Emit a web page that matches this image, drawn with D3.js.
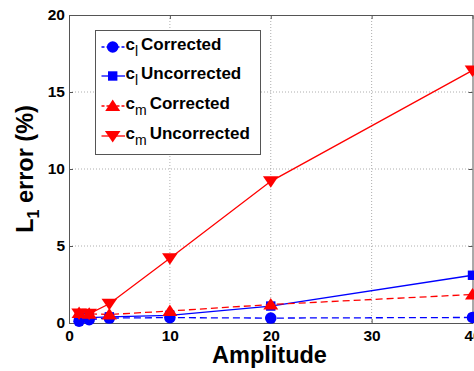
<!DOCTYPE html>
<html><head><meta charset="utf-8">
<script src="https://cdn.jsdelivr.net/npm/d3@7/dist/d3.min.js"></script>
<style>body{margin:0;background:#fff;}svg{display:block;}</style>
</head><body><svg id="c" width="474" height="371"></svg>
<script>
const amplitudes = [1, 2, 4, 10, 20, 40];
const clCorrected = [0.12, 0.22, 0.32, 0.35, 0.32, 0.36];
const clUncorrected = [0.3, 0.35, 0.4, 0.5, 1.1, 3.1];
const cmCorrected = [0.65, 0.6, 0.55, 0.78, 1.2, 1.85];
const cmUncorrected = [0.62, 0.6, 1.25, 4.2, 9.2, 16.4];
const xTicks = [0, 10, 20, 30, 40];
const yTicks = [0, 5, 10, 15, 20];
const seriesNames = ["Corrected", "Uncorrected", "Corrected", "Uncorrected"];
const seriesSub = ["l", "l", "m", "m"];

const series = [
  {vals: clCorrected, color: "#0000ff", dash: "7,4", marker: "circle"},
  {vals: clUncorrected, color: "#0000ff", dash: null, marker: "square"},
  {vals: cmCorrected, color: "#ff0000", dash: "7,4", marker: "up"},
  {vals: cmUncorrected, color: "#ff0000", dash: null, marker: "down"}
];

const svg = d3.select("#c");
const L = 69, R = 472.5, T = 15, B = 323;
const x = d3.scaleLinear().domain([0, 40]).range([L, R]);
const y = d3.scaleLinear().domain([0, 20]).range([B, T]);

// grid
const g = svg.append("g");
g.selectAll(".gx").data(xTicks.slice(1, -1)).enter().append("line")
  .attr("x1", d => x(d)).attr("x2", d => x(d)).attr("y1", T).attr("y2", B)
  .attr("stroke", "#999").attr("stroke-width", 0.8).attr("stroke-dasharray", "1,2");
g.selectAll(".gy").data(yTicks.slice(1, -1)).enter().append("line")
  .attr("y1", d => y(d)).attr("y2", d => y(d)).attr("x1", L).attr("x2", R)
  .attr("stroke", "#999").attr("stroke-width", 0.8).attr("stroke-dasharray", "1,2");

// axes
const font = "Arial, 'Liberation Sans', sans-serif";
const xa = svg.append("g").attr("transform", `translate(0,${B})`)
  .call(d3.axisBottom(x).tickValues(xTicks).tickSizeInner(-4).tickSizeOuter(0));
const ya = svg.append("g").attr("transform", `translate(${L},0)`)
  .call(d3.axisLeft(y).tickValues(yTicks).tickSizeInner(-4).tickSizeOuter(0).tickPadding(4));
svg.append("g").attr("transform", `translate(0,${T})`)
  .call(d3.axisTop(x).tickValues(xTicks).tickSizeInner(-4).tickSizeOuter(0).tickFormat(""));
svg.append("g").attr("transform", `translate(${R},0)`)
  .call(d3.axisRight(y).tickValues(yTicks).tickSizeInner(-4).tickSizeOuter(0).tickFormat(""));
svg.selectAll(".domain, .tick line").attr("stroke", "#555");
[xa, ya].forEach(a => a.selectAll("text").attr("font-family", font).attr("font-weight", "bold")
  .attr("font-size", 15.5).attr("fill", "#000"));
xa.selectAll("text").attr("y", 17.7).attr("dy", 0);

// lines + markers
const line = d3.line().x((d, i) => x(amplitudes[i])).y(d => y(d));
function drawMarker(sel, type, color, cx, cy) {
  if (type === "circle") sel.append("circle").attr("cx", cx).attr("cy", cy).attr("r", 5.8).attr("fill", color);
  else if (type === "square") sel.append("rect").attr("x", cx - 4.7).attr("y", cy - 4.7).attr("width", 9.4).attr("height", 9.4).attr("fill", color);
  else if (type === "up") sel.append("path").attr("d", `M${cx},${cy - 6.5}L${cx + 7.5},${cy + 5}L${cx - 7.5},${cy + 5}Z`).attr("fill", color);
  else sel.append("path").attr("d", `M${cx},${cy + 6.5}L${cx + 7.8},${cy - 5}L${cx - 7.8},${cy - 5}Z`).attr("fill", color);
}
series.forEach(s => {
  svg.append("path").datum(s.vals).attr("d", line).attr("fill", "none")
    .attr("stroke", s.color).attr("stroke-width", 1.3).attr("stroke-dasharray", s.dash);
});
series.forEach(s => {
  const mg = svg.append("g");
  s.vals.forEach((v, i) => drawMarker(mg, s.marker, s.color, x(amplitudes[i]), y(v)));
});

// legend
const lg = svg.append("g");
lg.append("rect").attr("x", 95.5).attr("y", 30.5).attr("width", 165).attr("height", 124)
  .attr("fill", "#fff").attr("stroke", "#555").attr("stroke-width", 1);
const rowY = [47, 76, 106, 136];
series.forEach((s, i) => {
  const cy = rowY[i];
  lg.append("line").attr("x1", 101.5).attr("x2", 125).attr("y1", cy).attr("y2", cy)
    .attr("stroke", s.color).attr("stroke-width", 1.3).attr("stroke-dasharray", s.dash ? "3,2" : null);
  drawMarker(lg, s.marker, s.color, 112.7, cy);
  const t = lg.append("text").attr("x", 125.5).attr("y", cy + 3).attr("font-family", font)
    .attr("font-size", 17).attr("font-weight", "bold").attr("fill", "#000");
  t.append("tspan").text("c");
  t.append("tspan").attr("dy", 5.5).attr("font-size", 14).attr("font-weight", "normal").text(seriesSub[i]);
  t.append("tspan").attr("dy", -5.5).attr("dx", 3).text(seriesNames[i]);
});

// axis titles
svg.append("text").attr("x", 269.5).attr("y", 363).attr("text-anchor", "middle")
  .attr("font-family", font).attr("font-weight", "bold").attr("font-size", 23.5).text("Amplitude");
const yt = svg.append("text").attr("transform", `translate(33,169) rotate(-90)`)
  .attr("text-anchor", "middle").attr("font-family", font).attr("font-weight", "bold").attr("font-size", 23.5);
yt.append("tspan").text("L");
yt.append("tspan").attr("dy", 6).attr("font-size", 16).text("1");
yt.append("tspan").attr("dy", -6).text(" error (%)");
</script></body></html>
